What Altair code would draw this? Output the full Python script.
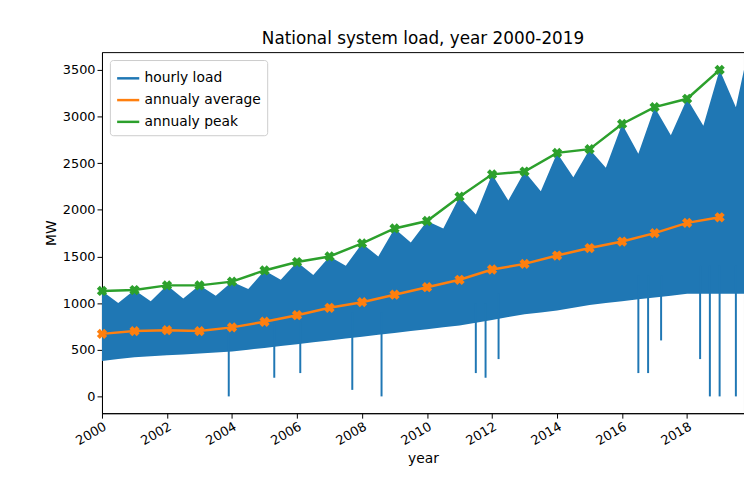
import altair as alt
import pandas as pd

years = list(range(2000, 2020))
avg = [670, 700, 710, 700, 740, 800, 870, 950, 1010, 1090, 1170, 1250, 1360, 1420, 1510, 1590, 1660, 1750, 1860, 1920]
peak = [1130, 1140, 1190, 1190, 1230, 1350, 1440, 1500, 1640, 1800, 1880, 2140, 2380, 2410, 2610, 2650, 2920, 3100, 3190, 3500]

# hand-read envelope of hourly load, half-year steps
env_t = [2000 + i * 0.5 for i in range(40)] + [2019.75]
env_lo = [380, 400, 420, 430, 440, 450, 460, 470, 480, 500, 520, 540, 560, 580, 600, 620, 640, 660, 680, 700,
          720, 740, 760, 790, 820, 850, 880, 900, 920, 950, 980, 1000, 1020, 1040, 1060, 1080, 1100, 1100, 1100, 1100, 1100]
env_hi = [1130, 1000, 1140, 1020, 1190, 1050, 1190, 1080, 1230, 1150, 1350, 1250, 1440, 1300, 1500, 1400, 1640, 1500, 1800, 1650,
          1880, 1800, 2140, 1950, 2380, 2100, 2410, 2200, 2610, 2350, 2650, 2450, 2920, 2600, 3100, 2800, 3190, 2900, 3500, 3100, 3500]
# outage dips
dip_t = [2003.9, 2005.3, 2006.1, 2007.7, 2008.6, 2011.5, 2011.8, 2012.2, 2016.5, 2016.8, 2017.2, 2018.4, 2018.7, 2019.0, 2019.5]
dip_y = [0, 200, 250, 70, 0, 250, 200, 400, 250, 250, 600, 400, 0, 0, 0]
dip_top = [700, 800, 800, 900, 900, 1000, 1000, 1100, 1300, 1300, 1300, 1400, 1400, 1400, 1400]

env = pd.DataFrame({"t": env_t, "lo": env_lo, "hi": env_hi, "s": "hourly load"})
dips = pd.DataFrame({"t": dip_t, "y": dip_y, "y2": dip_top, "s": "hourly load"})
lines = pd.DataFrame({"t": years * 2, "v": avg + peak,
                      "s": ["annualy average"] * 20 + ["annualy peak"] * 20})

F = "DejaVu Sans"
color = alt.Color("s:N", scale=alt.Scale(domain=["hourly load", "annualy average", "annualy peak"],
                                         range=["#1f77b4", "#ff7f0e", "#2ca02c"]),
                  legend=alt.Legend(title=None, orient="none", legendX=8, legendY=8, symbolType="stroke",
                                    symbolStrokeWidth=2.5, labelFontSize=14, labelFont=F, symbolSize=500,
                                    strokeColor="#ccc", fillColor="white", padding=6, cornerRadius=3))
x = alt.X("t:Q", scale=alt.Scale(domain=[2000, 2019.75], nice=False), title="year",
          axis=alt.Axis(values=list(range(2000, 2020, 2)), format="d", labelAngle=-30, labelAlign="right",
                        grid=False, labelFontSize=13, titleFontSize=14, titleFontWeight="normal"))
yax = alt.Axis(grid=False, labelFontSize=13, titleFontSize=14, titleFontWeight="normal",
               values=list(range(0, 3600, 500)), format="d")
ysc = alt.Scale(domain=[-180, 3690], nice=False)

band = alt.Chart(env).mark_area(color="#1f77b4", opacity=1).encode(
    x=x, y=alt.Y("lo:Q", scale=ysc, title="MW", axis=yax), y2="hi:Q", color=color)
dip = alt.Chart(dips).mark_rule(strokeWidth=2, color="#1f77b4").encode(x="t:Q", y="y:Q", y2="y2:Q")
ln = alt.Chart(lines).mark_line(strokeWidth=2.5).encode(x="t:Q", y="v:Q", color=color)
pt = alt.Chart(lines).mark_point(shape="cross", angle=45, filled=True, size=110, opacity=1).encode(
    x="t:Q", y="v:Q", color=alt.Color("s:N", legend=None))

chart = alt.layer(band, dip, ln, pt).properties(
    width=649, height=365, autosize="none", padding={"left": 95, "top": 42, "right": 0, "bottom": 71},
    title=alt.Title("National system load, year 2000-2019", fontSize=17, fontWeight="normal", font=F)
).configure_view(stroke="black").configure_axis(domainColor="black", tickColor="black", labelColor="black",
                                                 titleColor="black", labelFont=F, titleFont=F)
chart.save("out.html", embed_options={"renderer": "svg", "actions": False})
